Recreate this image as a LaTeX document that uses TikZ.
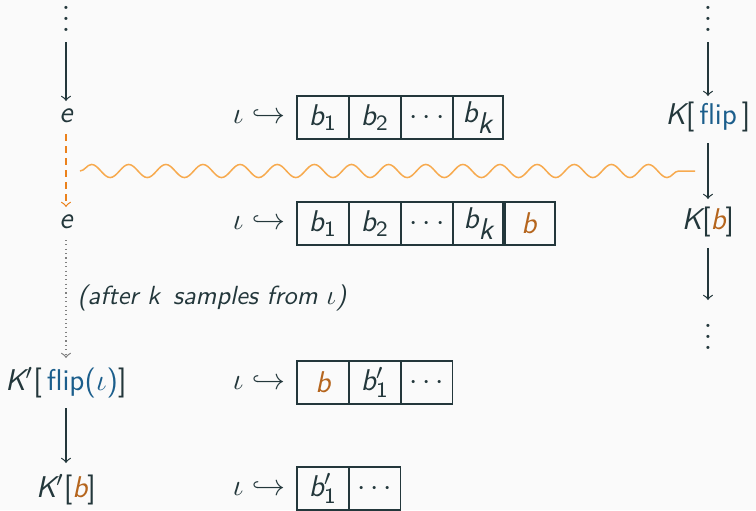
\documentclass[tikz,border=0pt]{standalone}
\usetikzlibrary{decorations.pathmorphing}
\definecolor{bgc}{HTML}{FAFAFA}
\definecolor{txt}{HTML}{23373B}
\definecolor{flipc}{HTML}{1B5E8C}
\definecolor{bcol}{HTML}{B5651D}
\definecolor{orng}{HTML}{EB811B}
\definecolor{snk}{HTML}{F7AA4E}
\newcommand{\mv}[1]{{\itshape #1}}
\newcommand{\fl}{\textcolor{flipc}{\upshape flip}}
\newcommand{\bb}{\textcolor{bcol}{\itshape b}}
\newcommand{\myvdots}{\vbox{\baselineskip4pt\lineskiplimit0pt\hbox{$.$}\hbox{$.$}\hbox{$.$}}}
\begin{document}
\begin{tikzpicture}[x=0.3663pt,y=-0.3663pt,
  every node/.style={text=txt,font=\fontsize{11}{13}\selectfont\sffamily,inner sep=0pt},
  cell/.style={draw=txt,line width=0.45pt,minimum width=19pt,minimum height=15.75pt,anchor=center},
  arr/.style={->,draw=txt,line width=0.45pt},
  dts/.style={anchor=base}]
\fill[bgc] (0,0) rectangle (756,510);
\useasboundingbox (0,0) rectangle (756,510);
% left column
\node[dts] (ltd) at (66,31.5) {\myvdots};
\node (e1) at (66,116) {\mv{e}};
\node (e2) at (66,222) {\mv{e}};
\node (kf) at (66,383) {\mv{K}$'$[\,\fl\textcolor{flipc}{($\iota$)}]};
\node (kb) at (66,490) {\mv{K}$'$[\bb]};
\node[anchor=west,font=\fontsize{9.6}{12}\selectfont\sffamily] (after) at (77,298) {\itshape (after k\, samples from $\iota$)};
% right column
\node[dts] (rtd) at (708,31.5) {\myvdots};
\node (rk1) at (708,117) {\mv{K}[\,\fl\,]};
\node (rk2) at (708,222) {\mv{K}[\bb]};
\node[dts] (rbd) at (708,349.5) {\myvdots};
% arrows
\draw[arr] (66,42) -- (66,101);
\draw[arr,draw=orng,dash pattern=on 2.6pt off 1.8pt] (66,134) -- (66,207);
\draw[arr,draw=gray,dash pattern=on 0.4pt off 1.2pt] (66,240) -- (66,358);
\draw[arr] (66,408) -- (66,463);
\draw[arr] (708,42) -- (708,96);
\draw[arr] (708,143) -- (708,199);
\draw[arr] (708,248) -- (708,300);
% snake
\coordinate (s0) at (80,171);
\coordinate (s1) at (695,171);
\draw[snk,line width=0.55pt,decorate,decoration={snake,amplitude=2.4pt,segment length=13.6pt}] (s0) -- (s1);
% iota rows
\foreach \y/\n in {117/i1,223/i2,383/i3,489/i4}{\node (\n) at (259,\y) {$\iota\hookrightarrow$};}
% row 1
\node[cell] (a1) at (323,117.5) {\mv{b}$_{\mathsf{1}}$};
\node[cell] (a2) at (375,117.5) {\mv{b}$_{\mathsf{2}}$};
\node[cell] (a3) at (427,117.5) {$\cdots$};
\node[cell,minimum width=18.3pt] (a4) at (478,117.5) {\mv{b}$_{\textsf{\itshape k}}$};
% row 2
\node[cell] (c1) at (323,223.5) {\mv{b}$_{\mathsf{1}}$};
\node[cell] (c2) at (375,223.5) {\mv{b}$_{\mathsf{2}}$};
\node[cell] (c3) at (427,223.5) {$\cdots$};
\node[cell] (c4) at (479,223.5) {\mv{b}$_{\textsf{\itshape k}}$};
\node[cell] (c5) at (529,223.5) {\bb};
% row 3
\node[cell] (d1) at (323,382.5) {\bb};
\node[cell] (d2) at (375,382.5) {\mv{b}${}'_{\mathsf{1}}$};
\node[cell] (d3) at (426.5,382.5) {$\cdots$};
% row 4
\node[cell] (f1) at (323,488.5) {\mv{b}${}'_{\mathsf{1}}$};
\node[cell] (f2) at (374.5,488.5) {$\cdots$};
\end{tikzpicture}
\end{document}
